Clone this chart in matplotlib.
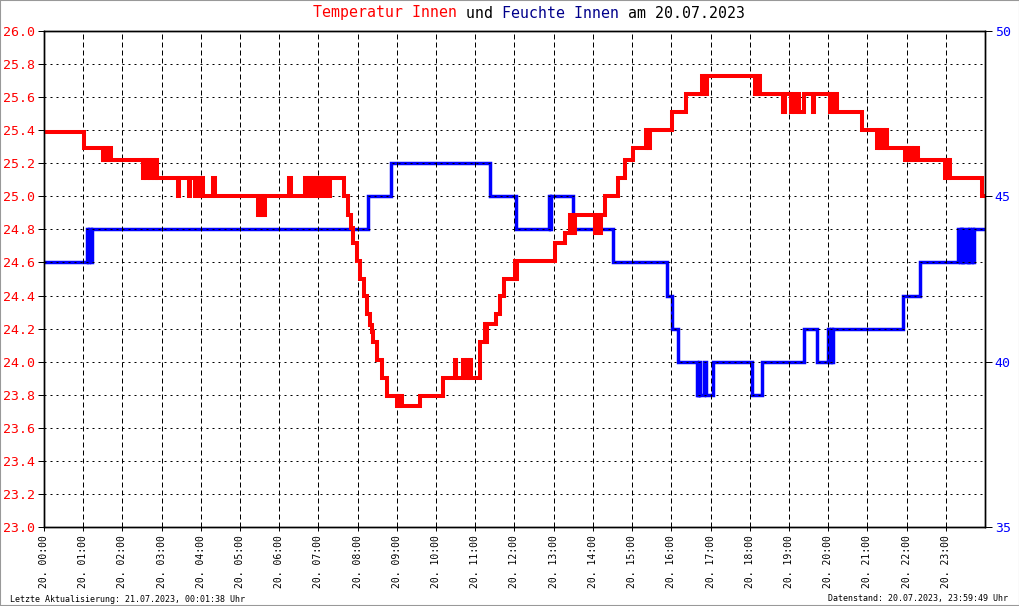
import matplotlib
matplotlib.use('Agg')
import matplotlib.pyplot as plt
from matplotlib.patches import Rectangle

plt.rcParams['font.family'] = 'DejaVu Sans Mono'

# time in hours since 20.07.2023 00:00, values change at these times (steps-post)
temp_t = [0.00, 1.03, 1.50, 1.55, 1.60, 1.65, 1.70,
          2.52, 2.56, 2.60, 2.65, 2.70, 2.75, 2.80, 2.85, 2.88,
          3.42, 3.45, 3.70, 3.73, 3.85, 3.90, 3.95, 4.00, 4.05, 4.32, 4.36,
          5.45, 5.50, 5.53, 5.58, 5.60, 5.64, 6.25, 6.30,
          6.66, 6.70, 6.75, 6.80, 6.85, 6.90, 6.95, 7.00, 7.05, 7.15, 7.20, 7.28, 7.30,
          7.66, 7.76, 7.83, 7.89, 7.98, 8.06, 8.16, 8.23, 8.32, 8.36, 8.38, 8.49,
          8.63, 8.76, 9.00, 9.03, 9.06, 9.09, 9.12, 9.59, 10.17,
          10.48, 10.52, 10.69, 10.73, 10.78, 10.83, 10.87, 10.90,
          11.12, 11.25, 11.28, 11.31, 11.52, 11.63, 11.74, 12.02, 12.04, 12.06,
          13.04, 13.29, 13.42, 13.45, 13.48, 13.52, 13.55,
          14.05, 14.10, 14.15, 14.20, 14.31, 14.65, 14.82, 15.03,
          15.35, 15.38, 15.42, 15.44, 15.46, 16.01, 16.38,
          16.78, 16.82, 16.86, 16.88, 16.91,
          18.14, 18.17, 18.21, 18.24, 18.27, 18.86, 18.89,
          19.05, 19.08, 19.12, 19.22, 19.26, 19.39, 19.62, 19.65,
          20.05, 20.09, 20.13, 20.18, 20.23, 20.86,
          21.24, 21.28, 21.33, 21.38, 21.42, 21.47, 21.51,
          21.96, 22.00, 22.05, 22.10, 22.15, 22.20, 22.30,
          22.98, 23.02, 23.06, 23.09, 23.11, 23.92, 24.00]
temp_v = [25.39, 25.29, 25.22, 25.29, 25.22, 25.29, 25.22,
          25.11, 25.22, 25.11, 25.22, 25.11, 25.22, 25.11, 25.22, 25.11,
          25.00, 25.11, 25.00, 25.11, 25.00, 25.11, 25.00, 25.11, 25.00, 25.11, 25.00,
          24.89, 25.00, 24.89, 25.00, 24.89, 25.00, 25.11, 25.00,
          25.11, 25.00, 25.11, 25.00, 25.11, 25.00, 25.11, 25.00, 25.11, 25.00, 25.11, 25.00, 25.11,
          25.00, 24.89, 24.81, 24.72, 24.61, 24.50, 24.40, 24.29, 24.22, 24.18, 24.12, 24.01,
          23.90, 23.79, 23.73, 23.79, 23.73, 23.79, 23.73, 23.79, 23.90,
          24.01, 23.90, 24.01, 23.90, 24.01, 23.90, 24.01, 23.90,
          24.12, 24.23, 24.12, 24.23, 24.29, 24.40, 24.50, 24.61, 24.50, 24.61,
          24.72, 24.78, 24.89, 24.78, 24.89, 24.78, 24.89,
          24.78, 24.89, 24.78, 24.89, 25.00, 25.11, 25.22, 25.29,
          25.40, 25.29, 25.40, 25.29, 25.40, 25.51, 25.62,
          25.73, 25.62, 25.73, 25.62, 25.73,
          25.62, 25.73, 25.62, 25.73, 25.62, 25.51, 25.62,
          25.51, 25.62, 25.51, 25.62, 25.51, 25.62, 25.51, 25.62,
          25.51, 25.62, 25.51, 25.62, 25.51, 25.40,
          25.29, 25.40, 25.29, 25.40, 25.29, 25.40, 25.29,
          25.22, 25.29, 25.22, 25.29, 25.22, 25.29, 25.22,
          25.11, 25.22, 25.11, 25.22, 25.11, 25.00, 25.00]

hum_t = [0.00, 1.10, 1.13, 1.16, 1.19, 1.22, 8.27, 8.85, 11.38, 12.04,
         12.87, 12.90, 12.93, 13.49, 14.52, 15.88, 16.01, 16.17,
         16.65, 16.67, 16.69, 16.71, 16.73, 16.84, 16.89, 17.07,
         18.05, 18.31, 19.39, 19.71, 20.00, 20.03, 20.06, 20.09, 20.13,
         21.92, 22.33, 23.32, 23.35, 23.38, 23.41, 23.44, 23.47,
         23.54, 23.57, 23.60, 23.62, 23.66, 23.69, 23.72, 24.00]
hum_v = [43, 44, 43, 44, 43, 44, 45, 46, 45, 44,
         45, 44, 45, 44, 43, 42, 41, 40,
         39, 40, 39, 40, 39, 40, 39, 40,
         39, 40, 41, 40, 41, 40, 41, 40, 41,
         42, 43, 44, 43, 44, 43, 44, 43,
         44, 43, 44, 43, 44, 43, 44, 44]

hour_labels = ['20. %02d:00' % h for h in range(24)]

RED = '#ff0000'
BLUE = '#0000ff'

fig = plt.figure(figsize=(10.2, 6.06), dpi=100)
fig.patch.set_facecolor('white')
fig.add_artist(Rectangle((0, 0), 1, 1, transform=fig.transFigure, fill=False,
                         edgecolor='#999999', lw=1.5))

ax = fig.add_axes([44 / 1020, 1 - 527 / 606, 941 / 1020, 496 / 606])
ax2 = ax.twinx()
ax.set_zorder(ax2.get_zorder() + 1)
ax.patch.set_visible(False)

ax2.plot(hum_t, hum_v, drawstyle='steps-post', color=BLUE, lw=2.5, solid_joinstyle='miter')
ax.plot(temp_t, temp_v, drawstyle='steps-post', color=RED, lw=2.9, solid_joinstyle='miter')

ax.set_xlim(0, 24)
ax.set_ylim(23.0, 26.0)
ax2.set_ylim(35, 50)

ax.set_yticks([23.0 + 0.2 * i for i in range(16)])
ax.set_yticklabels(['%.1f' % (23.0 + 0.2 * i) for i in range(16)])
ax.set_xticks(range(24))
ax.set_xticklabels(hour_labels, rotation=90, fontsize=7)
ax2.set_yticks([35, 40, 45, 50])

for y in [23.0 + 0.2 * i for i in range(1, 15)]:
    ax.axhline(y, color='black', lw=0.72, ls=(0, (2, 4)), zorder=0)
for h in range(1, 24):
    ax.axvline(h, color='black', lw=0.72, ls=(0, (5, 3)), zorder=0)

ax.tick_params(axis='y', direction='out', length=4.3, width=0.72, colors='black',
               labelcolor=RED, labelsize=9.5, pad=2)
ax.tick_params(axis='x', direction='out', length=3, width=0.72, labelsize=7, pad=3)
ax2.tick_params(axis='y', direction='out', length=5, width=0.72, colors='black',
                labelcolor=BLUE, labelsize=9.5, pad=2)
for a in (ax, ax2):
    for s in a.spines.values():
        s.set_linewidth(1.0)
        s.set_color('black')

# title in several colours
parts = [('Temperatur Innen', RED), (' und ', 'black'),
         ('Feuchte Innen', '#00008b'), (' am 20.07.2023', 'black')]
fig.canvas.draw()
r = fig.canvas.get_renderer()
x = 313
for txt, col in parts:
    t = fig.text(x / 1020, 1 - 13 / 606, txt, color=col, fontsize=10.7,
                 ha='left', va='center')
    x += t.get_window_extent(renderer=r).width

fig.text(10 / 1020, 1 - 599 / 606, 'Letzte Aktualisierung: 21.07.2023, 00:01:38 Uhr',
         fontsize=6, ha='left', va='center')
fig.text(1008 / 1020, 1 - 599 / 606, 'Datenstand: 20.07.2023, 23:59:49 Uhr',
         fontsize=6, ha='right', va='center')

fig.savefig('out.png', dpi=100)
